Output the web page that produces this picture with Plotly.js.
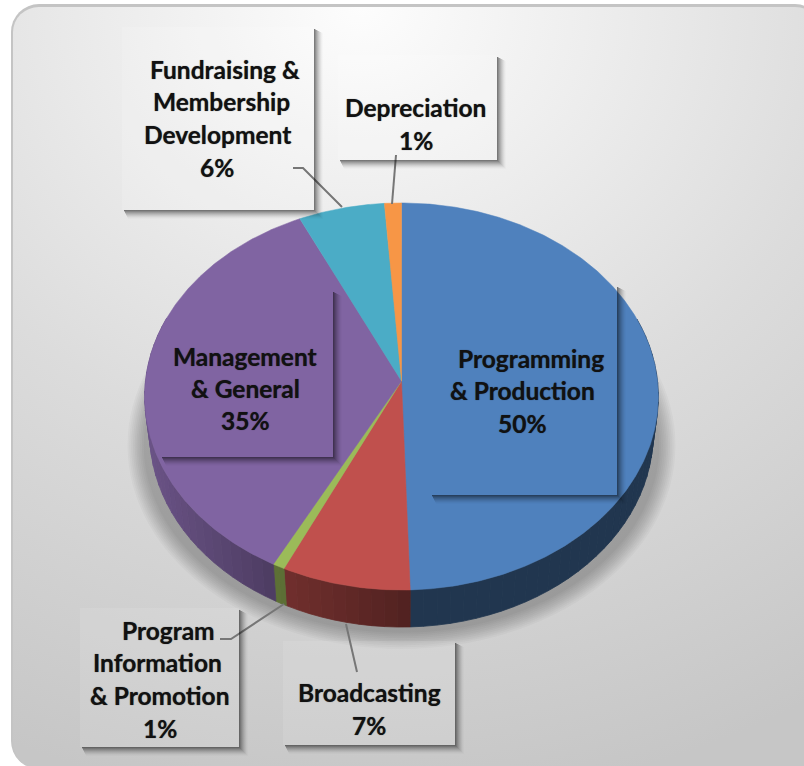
<!DOCTYPE html>
<html><head><meta charset="utf-8">
<script src="https://cdn.plot.ly/plotly-3.0.1.min.js"></script>
<style>
html,body{margin:0;padding:0;background:#fff;width:804px;height:766px;overflow:hidden}
#panel{position:absolute;left:11px;top:4px;width:810px;height:762px;border:solid #c4c4c4;border-width:3px 0 0 2px;border-radius:28px;
background:radial-gradient(ellipse 900px 800px at 43% 0%,#fdfdfd 0%,#dcdcdc 55%,#c6c6c6 100%);}
#chart{position:absolute;left:0;top:0;width:804px;height:766px}
</style></head><body>
<div id="panel"></div><div id="chart"></div>
<script>
// Data, clockwise from 12 o'clock
const categories = ["Programming & Production","Broadcasting","Program Information & Promotion","Management & General","Fundraising & Membership Development","Depreciation"];
const sliceShares = [49.5,7.5,0.7,35.3,5.85,1.15];
const percentLabels = ["50%","7%","1%","35%","6%","1%"];
const sliceColors = ["#4f81bd","#c0504d","#9bbb59","#8064a2","#4bacc6","#f79646"];
const labelLines = [
  ["Programming","& Production"],["Broadcasting"],["Program","Information","& Promotion"],
  ["Management","& General"],["Fundraising &","Membership","Development"],["Depreciation"]];

// Layout (pixel-scale axes)
const CX=401.5, CY=381, A=256, B=192.3, P=0.08, DEPTH=37, WALL_SCALE=0.98;
const lineCenters = [
  [[531,358],[522,390],[522,423]],
  [[369,692],[369,725]],
  [[168,630],[157,662],[160,695],[160,728]],
  [[245,356],[245,388],[245,420]],
  [[225,69],[221,101],[217,134],[217,167]],
  [[415,107],[416,140]]];
const boxes = [[430,285,617,495],[283,641,455,745],[80,608,239,747],[160,290,333,457],[122,27,314,210],[338,55,497,160]];
const boxFill = [0,0.1,0.1,0,0.15,0.15];
const leaders = [
  [[346,624],[357,672]],
  [[220,639],[231,639],[284,604]],
  [[293,168],[303,168],[342,207]],
  [[396,155],[392,204]]];

function proj(t){const u=Math.sin(t),v=Math.cos(t),w=1+P*v;return [CX+A*u/w,CY-B*v/w];}
function rgb(h,f){const n=parseInt(h.slice(1),16);return `rgb(${[n>>16,(n>>8)&255,n&255].map(c=>Math.round(c*f)).join(",")})`;}
function shade(x){
  if(x>=410) return 0.42;
  if(x>=275) return 0.42+0.18*(410-x)/135;
  return 0.6+0.22*(275-x)/125;
}
function low(p){return [CX+(p[0]-CX)*WALL_SCALE,p[1]+DEPTH];}

const total = sliceShares.reduce((a,b)=>a+b,0);
const traces=[];
const noHover={hoverinfo:"skip",showlegend:false,mode:"lines",type:"scatter"};
let start=0;
const wedges=[];
sliceShares.forEach((s,i)=>{const a0=start/total*2*Math.PI,a1=(start+s)/total*2*Math.PI;wedges.push([a0,a1]);start+=s;});
// side wall
wedges.forEach(([a0,a1],i)=>{
  const n=Math.max(2,Math.ceil((a1-a0)/0.05));
  for(let k=0;k<n;k++){
    const t0=a0+(a1-a0)*k/n,t1=a0+(a1-a0)*(k+1)/n;
    if(Math.cos((t0+t1)/2)>0.35) continue;
    const p0=proj(t0),p1=proj(t1),q0=low(p0),q1=low(p1);
    const col=rgb(sliceColors[i],shade((p0[0]+p1[0])/2));
    traces.push(Object.assign({},noHover,{x:[p0[0],p1[0],q1[0],q0[0],p0[0]],y:[p0[1],p1[1],q1[1],q0[1],p0[1]],
      fill:"toself",fillcolor:col,line:{color:col,width:0.8}}));
  }
});
// top faces
wedges.forEach(([a0,a1],i)=>{
  const xs=[CX],ys=[CY];
  const n=Math.max(6,Math.ceil((a1-a0)/0.01));
  for(let k=0;k<=n;k++){const p=proj(a0+(a1-a0)*k/n);xs.push(p[0]);ys.push(p[1]);}
  xs.push(CX);ys.push(CY);
  traces.push(Object.assign({},noHover,{name:categories[i],x:xs,y:ys,fill:"toself",fillcolor:sliceColors[i],line:{color:sliceColors[i],width:0.5}}));
});

const shapes=[];
// soft pie shadow
for(let i=0;i<10;i++){
  const g=18-i*1.8;
  shapes.push({type:"circle",layer:"below",xref:"x",yref:"y",x0:CX-256-g,x1:CX+256+g,y0:260-g,y1:590+DEPTH+4+g,
    fillcolor:"rgba(0,0,0,0.026)",line:{width:0}});
}
// label boxes
boxes.forEach((b,i)=>{
  const [x0,y0,x1,y1]=b;
  if(boxFill[i]>0) shapes.push({type:"rect",layer:"below",xref:"x",yref:"y",x0,y0,x1,y1,fillcolor:`rgba(255,255,255,${boxFill[i]})`,line:{width:0}});
  for(let k=0;k<9;k++){
    const o=(9-k)/9;
    const a=0.5*Math.pow(o,1.6);
    const d0=k,d1=k+1;
    const path=`M${x1+d0},${y0+2+k*0.5} L${x1+d1},${y0+2+k*0.5} L${x1+d1},${y1+d1} L${x0+2+k*0.5},${y1+d1} L${x0+2+k*0.5},${y1+d0} L${x1+d0},${y1+d0} Z`;
    shapes.push({type:"path",layer:"above",xref:"x",yref:"y",path,fillcolor:`rgba(0,0,0,${a})`,line:{width:0}});
  }
});
// leader lines
leaders.forEach(l=>{
  traces.push(Object.assign({},noHover,{x:l.map(p=>p[0]),y:l.map(p=>p[1]),line:{color:"#767676",width:2}}));
});

const annotations=[];
categories.forEach((c,i)=>{
  const lines=labelLines[i].concat([percentLabels[i]]);
  lines.forEach((t,j)=>{
    const [x,y]=lineCenters[i][j];
    annotations.push({x,y,xref:"x",yref:"y",text:t,showarrow:false,xanchor:"center",yanchor:"middle",
      font:{family:"Lato, 'Liberation Sans', sans-serif",size:24.5,color:"#111111",weight:700,shadow:"0 0 1px rgba(0,0,0,0.6)"}});
  });
});

Plotly.newPlot("chart",traces,{
  width:804,height:766,margin:{l:0,r:0,t:0,b:0},paper_bgcolor:"rgba(0,0,0,0)",plot_bgcolor:"rgba(0,0,0,0)",
  showlegend:false,hovermode:false,
  xaxis:{range:[0,804],visible:false,fixedrange:true},
  yaxis:{range:[766,0],visible:false,fixedrange:true},
  shapes,annotations
},{displayModeBar:false,staticPlot:true});
</script></body></html>
